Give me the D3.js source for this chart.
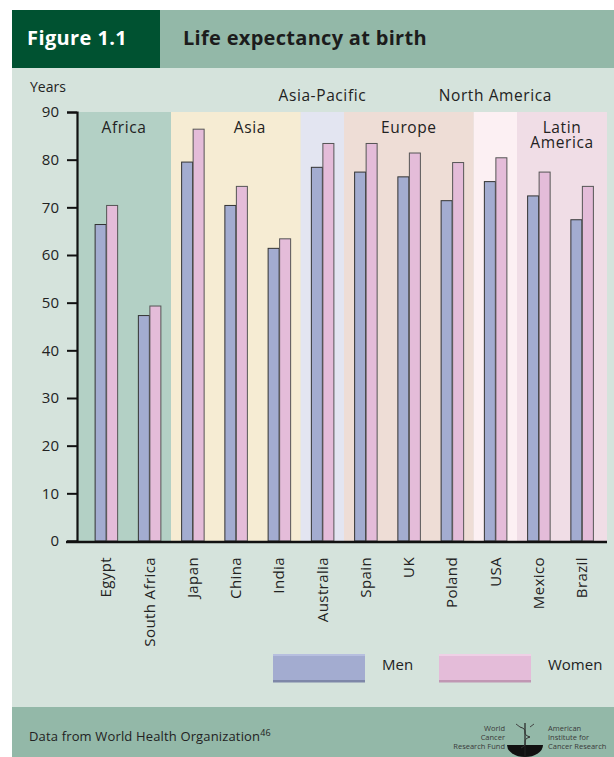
<!DOCTYPE html>
<html>
<head>
<meta charset="utf-8">
<script src="https://cdn.jsdelivr.net/npm/d3@7/dist/d3.min.js"></script>
<style>
  html, body { margin: 0; padding: 0; background: #ffffff; }
  svg { display: block; font-family: "Open Sans", "Noto Sans", sans-serif; }
</style>
</head>
<body>
<svg id="chart" width="614" height="757"></svg>
<script>
// Life expectancy at birth, years (WHO)
const countries = ["Egypt", "South Africa", "Japan", "China", "India", "Australia",
                   "Spain", "UK", "Poland", "USA", "Mexico", "Brazil"];
const men   = [66.5, 47.4, 79.6, 70.5, 61.5, 78.5, 77.5, 76.5, 71.5, 75.5, 72.5, 67.5];
const women = [70.5, 49.4, 86.5, 74.5, 63.5, 83.5, 83.5, 81.5, 79.5, 80.5, 77.5, 74.5];
const seriesNames = ["Men", "Women"];

const regionNames = ["Africa", "Asia", "Asia-Pacific", "Europe", "North America", "Latin America"];
const regionFirst = ["Egypt", "Japan", "Australia", "Spain", "USA", "Mexico"];
const regionLast  = ["South Africa", "India", "Australia", "Poland", "USA", "Brazil"];
const yTicks = [0, 10, 20, 30, 40, 50, 60, 70, 80, 90];

// colours
const menFill = "#a3acd0", womenFill = "#e4bcd9";
const regionFill = ["#b3d0c5", "#f6ecd3", "#e3e5f1", "#eeddd6", "#fcf0f3", "#f0dde6"];

const svg = d3.select("#chart");

// frame: header, body, footer
svg.append("rect").attr("x", 12).attr("y", 68).attr("width", 602).attr("height", 640).attr("fill", "#d5e3dc");
svg.append("rect").attr("x", 136).attr("y", 10).attr("width", 478).attr("height", 58).attr("fill", "#93b8a8");
svg.append("rect").attr("x", 12).attr("y", 10).attr("width", 148).attr("height", 58).attr("fill", "#005231");
svg.append("rect").attr("x", 12).attr("y", 707).attr("width", 602).attr("height", 50).attr("fill", "#93b8a8");

svg.append("text").attr("x", 27).attr("y", 45).attr("fill", "#ffffff")
  .attr("font-size", 20).attr("font-weight", 700).attr("letter-spacing", 0.4).text("Figure 1.1");
svg.append("text").attr("x", 183).attr("y", 45).attr("fill", "#1c1c1c")
  .attr("font-size", 20).attr("font-weight", 700).attr("letter-spacing", 0.3).text("Life expectancy at birth");

// scales
const x0 = d3.scaleBand().domain(countries).range([84.5, 603.5])
  .paddingInner(0.468).paddingOuter(0.234);
const x1 = d3.scaleBand().domain(seriesNames).range([0, x0.bandwidth()]);
const y = d3.scaleLinear().domain([0, 90]).range([541, 112]);

const axisLeftX = 77, axisRightX = 607;
const gap = x0.step() * x0.paddingInner();

// region backgrounds
const regions = regionNames.map((name, i) => {
  const a = i === 0 ? axisLeftX : x0(regionFirst[i]) - gap / 2;
  const b = i === regionNames.length - 1 ? axisRightX : x0(regionLast[i]) + x0.bandwidth() + gap / 2;
  return { name, a, b, fill: regionFill[i] };
});
svg.append("g").selectAll("rect").data(regions).join("rect")
  .attr("x", d => d.a).attr("y", y(90)).attr("width", d => d.b - d.a)
  .attr("height", y(0) - y(90)).attr("fill", d => d.fill);

// region labels: inside the plot for most, above it for the narrow ones
const labelDx = { "Asia": 14 };
const inside = regions.filter(d => d.name !== "Asia-Pacific" && d.name !== "North America");
const above = regions.filter(d => d.name === "Asia-Pacific" || d.name === "North America");
const inG = svg.append("g").attr("font-size", 15.5).attr("letter-spacing", 0.6)
  .attr("fill", "#222").attr("text-anchor", "middle");
inside.forEach(d => {
  const cx = (d.a + d.b) / 2 + (labelDx[d.name] || 0);
  const words = d.name === "Latin America" ? ["Latin", "America"] : [d.name];
  const t = inG.append("text").attr("x", cx).attr("y", 133);
  words.forEach((w, k) => t.append("tspan").attr("x", cx).attr("dy", k === 0 ? 0 : 15).text(w));
});
svg.append("g").attr("font-size", 15.5).attr("letter-spacing", 0.6).attr("fill", "#222")
  .attr("text-anchor", "middle")
  .selectAll("text").data(above).join("text")
  .attr("x", d => (d.a + d.b) / 2).attr("y", 101).text(d => d.name);

// bars
const rows = countries.map((c, i) => ({ c, vals: [men[i], women[i]] }));
const groups = svg.append("g").selectAll("g").data(rows).join("g")
  .attr("transform", d => `translate(${x0(d.c)},0)`);
groups.selectAll("rect").data(d => d.vals.map((v, k) => ({ k, v }))).join("rect")
  .attr("x", d => x1(seriesNames[d.k]) + 0.5)
  .attr("y", d => y(d.v) + 0.5)
  .attr("width", x1.bandwidth() - 0.5)
  .attr("height", d => y(0) - y(d.v) - 0.5)
  .attr("fill", d => d.k === 0 ? menFill : womenFill)
  .attr("stroke", d => d.k === 0 ? "#333" : "#555")
  .attr("stroke-width", 1);

// y axis
const yAxis = d3.axisLeft(y).tickValues(yTicks).tickSize(10).tickPadding(8);
const gy = svg.append("g").attr("transform", `translate(${axisLeftX},0)`).call(yAxis);
gy.select(".domain").attr("stroke", "#111").attr("stroke-width", 2.2);
gy.selectAll(".tick line").attr("stroke", "#111").attr("stroke-width", 2);
gy.selectAll(".tick text").attr("font-size", 15).attr("fill", "#222")
  .attr("font-family", "'Open Sans', 'Noto Sans', sans-serif");
svg.append("text").attr("x", 30).attr("y", 92).attr("font-size", 14).attr("fill", "#222").text("Years");

// x axis baseline and country labels
svg.append("line").attr("x1", 66).attr("x2", axisRightX).attr("y1", y(0) + 1).attr("y2", y(0) + 1)
  .attr("stroke", "#111").attr("stroke-width", 2.5);
svg.append("g").attr("font-size", 15).attr("letter-spacing", 0.4).attr("fill", "#222")
  .selectAll("text").data(countries).join("text")
  .attr("transform", d => `translate(${x0(d) + x0.bandwidth() / 2},557) rotate(-90)`)
  .attr("text-anchor", "end").attr("dy", "0.35em").text(d => d);

// legend
const legend = [
  { name: "Men", x: 273, fill: menFill, hi: "#b7bfdf", lo: "#7e87a8" },
  { name: "Women", x: 439, fill: womenFill, hi: "#efd0e6", lo: "#c097b3" }
];
const lg = svg.append("g").selectAll("g").data(legend).join("g");
lg.append("rect").attr("x", d => d.x).attr("y", 654).attr("width", 92).attr("height", 28).attr("fill", d => d.fill);
lg.append("rect").attr("x", d => d.x).attr("y", 654).attr("width", 92).attr("height", 2).attr("fill", d => d.hi);
lg.append("rect").attr("x", d => d.x).attr("y", 680).attr("width", 92).attr("height", 2.5).attr("fill", d => d.lo);
lg.append("text").attr("x", d => d.x + 109).attr("y", 670).attr("font-size", 15).attr("fill", "#222").text(d => d.name);

// footer
const src = svg.append("text").attr("x", 29).attr("y", 741).attr("font-size", 13)
  .attr("letter-spacing", 0.15).attr("fill", "#222");
src.append("tspan").text("Data from World Health Organization");
src.append("tspan").attr("font-size", 9).attr("dy", -5).text("46");

const logoText = svg.append("g").attr("font-size", 7.5).attr("fill", "#3a3a3a");
["World", "Cancer", "Research Fund"].forEach((w, i) =>
  logoText.append("text").attr("x", 505).attr("y", 731 + i * 9).attr("text-anchor", "end").text(w));
["American", "Institute for", "Cancer Research"].forEach((w, i) =>
  logoText.append("text").attr("x", 548).attr("y", 731 + i * 9).text(w));
// emblem: bowl with staff
svg.append("path").attr("d", "M507,745 L543,745 A18,12 0 0 1 507,745 Z").attr("fill", "#111");
svg.append("line").attr("x1", 525).attr("x2", 525).attr("y1", 723).attr("y2", 757)
  .attr("stroke", "#222").attr("stroke-width", 1.2);
svg.append("path").attr("d", "M520,727 C530,730 520,734 530,737 C520,740 530,744 521,748")
  .attr("fill", "none").attr("stroke", "#333").attr("stroke-width", 1);
svg.append("path").attr("d", "M516,724 L520,727 M534,724 L530,727")
  .attr("fill", "none").attr("stroke", "#444").attr("stroke-width", 1);
</script>
</body>
</html>
